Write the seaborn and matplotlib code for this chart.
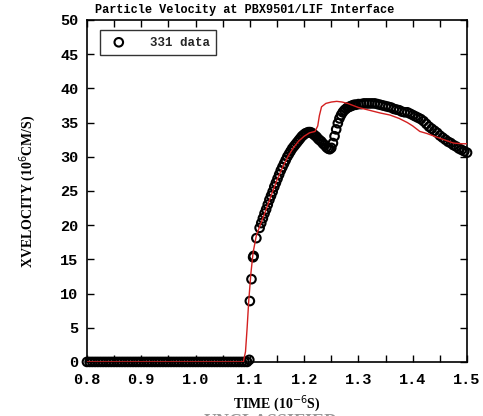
import numpy as np
import pandas as pd
import seaborn as sns
import matplotlib.pyplot as plt
from matplotlib.ticker import MultipleLocator, FormatStrFormatter

sns.set_theme(style="white")
plt.rcParams["font.family"] = ["Liberation Serif", "DejaVu Serif"]

# measured data (331 data), time in 1e-6 s
base_t = [0.800, 0.805, 0.810, 0.815, 0.820, 0.825, 0.830, 0.835, 0.840, 0.845,
          0.850, 0.855, 0.860, 0.865, 0.870, 0.875, 0.880, 0.885, 0.890, 0.895,
          0.900, 0.905, 0.910, 0.915, 0.920, 0.925, 0.930, 0.935, 0.940, 0.945,
          0.950, 0.955, 0.960, 0.965, 0.970, 0.975, 0.980, 0.985, 0.990, 0.995,
          1.000, 1.005, 1.010, 1.015, 1.020, 1.025, 1.030, 1.035, 1.040, 1.045,
          1.050, 1.055, 1.060, 1.065, 1.070, 1.075, 1.080, 1.085, 1.090, 1.095]
base_v = [0.0] * len(base_t)

rise_t = [1.099, 1.100, 1.103, 1.106, 1.107, 1.112, 1.118, 1.121, 1.124, 1.127,
          1.130, 1.133, 1.136, 1.139, 1.142, 1.145, 1.148, 1.151, 1.154, 1.157,
          1.160, 1.163, 1.166, 1.169, 1.172, 1.175, 1.178, 1.181, 1.184, 1.187,
          1.190, 1.193, 1.196, 1.199, 1.202, 1.205, 1.208, 1.211, 1.214, 1.217,
          1.220, 1.223, 1.226, 1.229, 1.232, 1.235, 1.238, 1.241, 1.244, 1.247,
          1.250, 1.253, 1.256, 1.259, 1.262, 1.265, 1.268, 1.271, 1.274, 1.277,
          1.280, 1.283, 1.286, 1.289, 1.292, 1.295, 1.300, 1.305, 1.310, 1.315,
          1.320, 1.325, 1.330, 1.335, 1.340, 1.345, 1.350, 1.355, 1.360, 1.365,
          1.370, 1.375, 1.380, 1.385, 1.390, 1.395, 1.400, 1.405, 1.410, 1.415,
          1.420, 1.425, 1.430, 1.435, 1.440, 1.445, 1.450, 1.455, 1.460, 1.465,
          1.470, 1.475, 1.480, 1.485, 1.490, 1.495, 1.500]
rise_v = [0.3, 8.9, 12.1, 15.3, 15.5, 18.1, 19.6, 20.3, 21.0, 21.7,
          22.3, 23.0, 23.7, 24.3, 24.9, 25.6, 26.2, 26.8, 27.4, 28.0,
          28.5, 29.0, 29.5, 30.0, 30.4, 30.8, 31.2, 31.5, 31.8, 32.1,
          32.4, 32.7, 33.0, 33.2, 33.4, 33.5, 33.6, 33.6, 33.5, 33.3,
          33.1, 32.9, 32.6, 32.4, 32.2, 31.9, 31.7, 31.4, 31.2, 31.1,
          31.3, 32.0, 33.0, 34.0, 34.9, 35.6, 36.1, 36.5, 36.8, 37.0,
          37.2, 37.3, 37.4, 37.5, 37.6, 37.6, 37.7, 37.7, 37.8, 37.8,
          37.8, 37.8, 37.8, 37.7, 37.6, 37.5, 37.4, 37.3, 37.2, 37.0,
          36.9, 36.8, 36.6, 36.5, 36.5, 36.3, 36.1, 35.9, 35.7, 35.5,
          35.2, 34.8, 34.4, 34.1, 33.8, 33.5, 33.1, 32.8, 32.5, 32.2,
          32.0, 31.7, 31.5, 31.2, 31.0, 30.8, 30.6]

# simulation curve
sim_t = [0.800, 1.088, 1.092, 1.095, 1.098, 1.102, 1.106, 1.112, 1.120, 1.130,
         1.140, 1.150, 1.160, 1.170, 1.180, 1.190, 1.200, 1.210, 1.220, 1.225,
         1.228, 1.232, 1.240, 1.250, 1.260, 1.270, 1.280, 1.290, 1.300, 1.320,
         1.340, 1.358, 1.375, 1.390, 1.400, 1.413, 1.426, 1.450, 1.475, 1.490, 1.500]
sim_v = [0.0, 0.0, 1.5, 5.0, 9.0, 13.0, 16.0, 18.5, 20.2, 22.3,
         24.5, 26.6, 28.4, 30.0, 31.3, 32.3, 33.0, 33.5, 33.7, 34.5,
         36.0, 37.3, 37.8, 38.0, 38.1, 38.0, 37.8, 37.5, 37.2, 36.8,
         36.4, 36.1, 35.6, 35.0, 34.5, 33.7, 33.4, 32.7, 32.0, 31.9, 31.9]

data = pd.DataFrame({"t": base_t + rise_t, "v": base_v + rise_v})
sim = pd.DataFrame({"t": sim_t, "v": sim_v})

mono = ["Liberation Mono", "DejaVu Sans Mono"]

fig = plt.figure(figsize=(4.83, 4.16), dpi=100)
ax = fig.add_axes([0.180, 0.130, 0.787, 0.822])

sns.scatterplot(data=data, x="t", y="v", ax=ax, marker="o", s=38,
                facecolor="none", edgecolor="black", linewidth=1.5,
                label="331 data", zorder=2, clip_on=False)
sns.lineplot(data=sim, x="t", y="v", ax=ax, color="#d42020", linewidth=1.0,
             zorder=3, legend=False)

ax.set_xlim(0.8, 1.5)
ax.set_ylim(0, 50)
ax.xaxis.set_major_locator(MultipleLocator(0.1))
ax.xaxis.set_minor_locator(MultipleLocator(0.05))
ax.xaxis.set_major_formatter(FormatStrFormatter("%.1f"))
ax.yaxis.set_major_locator(MultipleLocator(5))
ax.tick_params(which="both", direction="in", top=True, right=True,
               bottom=True, left=True, length=5, width=1, color="black")
ax.tick_params(axis="x", pad=8)
ax.tick_params(axis="y", pad=6)
for sp in ax.spines.values():
    sp.set_color("black")
    sp.set_linewidth(1.2)

for lab in ax.get_xticklabels() + ax.get_yticklabels():
    lab.set_family(mono)
    lab.set_fontweight("bold")
    lab.set_fontsize(11)
    lab.set_color("black")

fig.text(95 / 483, 1 - 10 / 416, "Particle Velocity at PBX9501/LIF Interface",
         ha="left", va="center", family=mono, fontsize=8.6,
         fontweight="bold", color="black")
ax.set_xlabel(r"TIME (10$^{-6}$S)", fontsize=10, fontweight="bold", labelpad=4,
              color="black")
ax.set_ylabel(r"XVELOCITY (10$^{6}$CM/S)", fontsize=10, fontweight="bold",
              labelpad=16, color="black")

leg = ax.legend(loc="upper left", bbox_to_anchor=(0.018, 0.988), frameon=True,
                fancybox=False, edgecolor="black", fontsize=9,
                handletextpad=1.5, borderpad=0.5, markerscale=1.0)
leg.get_frame().set_linewidth(1.0)
for txt in leg.get_texts():
    txt.set_fontweight("bold")
    txt.set_family(mono)

fig.text(0.56, -0.016, "UNCLASSIFIED", ha="center", va="center",
         fontsize=13, fontweight="bold", color="#999999")

fig.savefig("out.png", dpi=100)
